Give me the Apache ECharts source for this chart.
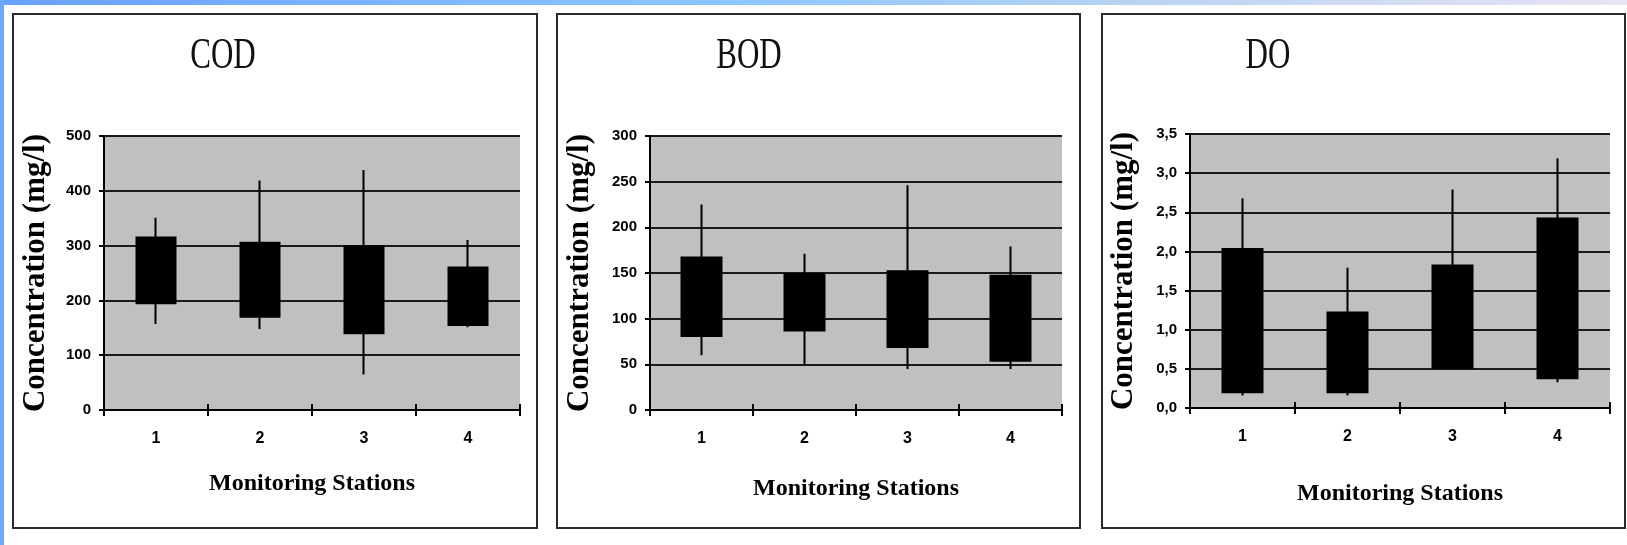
<!DOCTYPE html>
<html><head><meta charset="utf-8">
<script src="https://cdn.jsdelivr.net/npm/echarts@6/dist/echarts.min.js"></script>
<style>html,body{margin:0;padding:0;background:#fff;}#c{width:1627px;height:545px;}</style>
</head><body><div id="c"></div>
<script>
// ---- data ----
const stations = ['1', '2', '3', '4'];
const panelTitles = ['COD', 'BOD', 'DO'];
const yAxisTitle = 'Concentration (mg/l)';
const xAxisTitle = 'Monitoring Stations';

const codBoxTop    = [315, 305, 299, 260];
const codBoxBottom = [195, 170, 140, 155];
const codMax       = [351, 419, 438, 310];
const codMin       = [157, 148, 65, 151];

const bodBoxTop    = [167, 149, 152, 147];
const bodBoxBottom = [81, 87, 69, 54];
const bodMax       = [225, 171, 246, 179];
const bodMin       = [60, 50, 45, 45];

const doBoxTop     = [2.03, 1.22, 1.82, 2.42];
const doBoxBottom  = [0.20, 0.20, 0.51, 0.38];
const doMax        = [2.68, 1.79, 2.79, 3.19];
const doMin        = [0.16, 0.16, 0.50, 0.33];

// axis ranges: [min, max, interval]
const codAxis = [0, 500, 100];
const bodAxis = [0, 300, 50];
const doAxis  = [0, 3.5, 0.5];

// ---- layout ----
const grids = [
  { left: 104, top: 136, width: 416, height: 274 },
  { left: 650, top: 136, width: 412, height: 274 },
  { left: 1190, top: 134, width: 420, height: 274 }
];
const panels = [
  { x: 13, y: 14, w: 524, h: 514 },
  { x: 557, y: 14, w: 523, h: 514 },
  { x: 1102, y: 14, w: 523, h: 514 }
];
const titlePos = [[223, 56], [749, 56], [1268, 56]];
const xNameGap = [62, 67, 74];
const yNameGap = [53, 55, 51];

function toCandles(bot, top, lo, hi) {
  return bot.map((b, i) => [b, top[i], lo[i], hi[i]]);
}
const seriesData = [
  toCandles(codBoxBottom, codBoxTop, codMin, codMax),
  toCandles(bodBoxBottom, bodBoxTop, bodMin, bodMax),
  toCandles(doBoxBottom, doBoxTop, doMin, doMax)
];
const axes = [codAxis, bodAxis, doAxis];
const fmts = [v => String(v), v => String(v), v => v.toFixed(1).replace('.', ',')];

const tickFont = "'Liberation Sans', Arial, sans-serif";
const serif = "'Liberation Serif', 'DejaVu Serif', serif";

const xAxes = [], yAxes = [], series = [];
for (let i = 0; i < 3; i++) {
  xAxes.push({
    type: 'category', gridIndex: i, data: stations, position: 'bottom',
    axisLine: { lineStyle: { color: '#000', width: 2 } },
    axisTick: { show: true, length: 6, lineStyle: { color: '#000', width: 2 } },
    axisLabel: { margin: 21, fontSize: 16, fontWeight: 'bold', color: '#000', fontFamily: tickFont },
    name: xAxisTitle, nameLocation: 'middle', nameGap: xNameGap[i],
    nameTextStyle: { fontFamily: serif, fontWeight: 'bold', fontSize: 24, color: '#000' },
    splitLine: { show: false }
  });
}
for (let i = 0; i < 3; i++) {
  xAxes.push({
    type: 'category', gridIndex: i, data: stations, position: 'bottom',
    axisLine: { show: false },
    axisTick: { show: true, inside: true, length: 6, lineStyle: { color: '#000', width: 2 } },
    axisLabel: { show: false },
    splitLine: { show: false }
  });
}
for (let i = 0; i < 3; i++) {
  yAxes.push({
    type: 'value', gridIndex: i, min: axes[i][0], max: axes[i][1], interval: axes[i][2],
    axisLine: { show: true, lineStyle: { color: '#000', width: 2 } },
    axisTick: { show: true, length: 5, lineStyle: { color: '#000', width: 2 } },
    axisLabel: { margin: 13, fontSize: 15, fontWeight: 'bold', color: '#000', fontFamily: tickFont, formatter: fmts[i] },
    splitLine: { show: true, lineStyle: { color: '#1a1a1a', width: 2 } },
    name: yAxisTitle, nameLocation: 'middle', nameGap: yNameGap[i],
    nameTextStyle: { fontFamily: serif, fontWeight: 'bold', fontSize: 31, color: '#000' }
  });
  series.push({
    type: 'candlestick', xAxisIndex: i, yAxisIndex: i, data: seriesData[i],
    barWidth: 40,
    itemStyle: { color: '#000', color0: '#000', borderColor: '#000', borderColor0: '#000', borderWidth: 2 }
  });
}

const graphics = [
  { type: 'rect', z: 0, shape: { x: 0, y: 0, width: 1627, height: 5 },
    style: { fill: new echarts.graphic.LinearGradient(0, 0, 1, 0, [
      { offset: 0, color: '#68a2ff' }, { offset: 0.45, color: '#8cc6ff' },
      { offset: 0.7, color: '#b9d3f1' }, { offset: 1, color: '#e9e3f4' }]) } },
  { type: 'rect', z: 0, shape: { x: 0, y: 0, width: 4, height: 545 }, style: { fill: '#6ea8ff' } }
];
panels.forEach(p => graphics.push({
  type: 'rect', z: 0, shape: { x: p.x, y: p.y, width: p.w, height: p.h },
  style: { fill: 'transparent', stroke: '#2a2a2a', lineWidth: 2 }
}));
panelTitles.forEach((t, i) => graphics.push({
  type: 'text', z: 10, x: titlePos[i][0], y: titlePos[i][1], scaleY: 1.45,
  style: { text: t, font: '31px ' + serif, fill: '#111',
    align: 'center', verticalAlign: 'middle', textAlign: 'center', textVerticalAlign: 'middle' }
}));

const chart = echarts.init(document.getElementById('c'));
chart.setOption({
  animation: false,
  backgroundColor: '#fff',
  grid: grids.map(g => Object.assign({ show: true, backgroundColor: '#c0c0c0', borderWidth: 0 }, g)),
  xAxis: xAxes,
  yAxis: yAxes,
  series: series,
  graphic: graphics
});
</script></body></html>
